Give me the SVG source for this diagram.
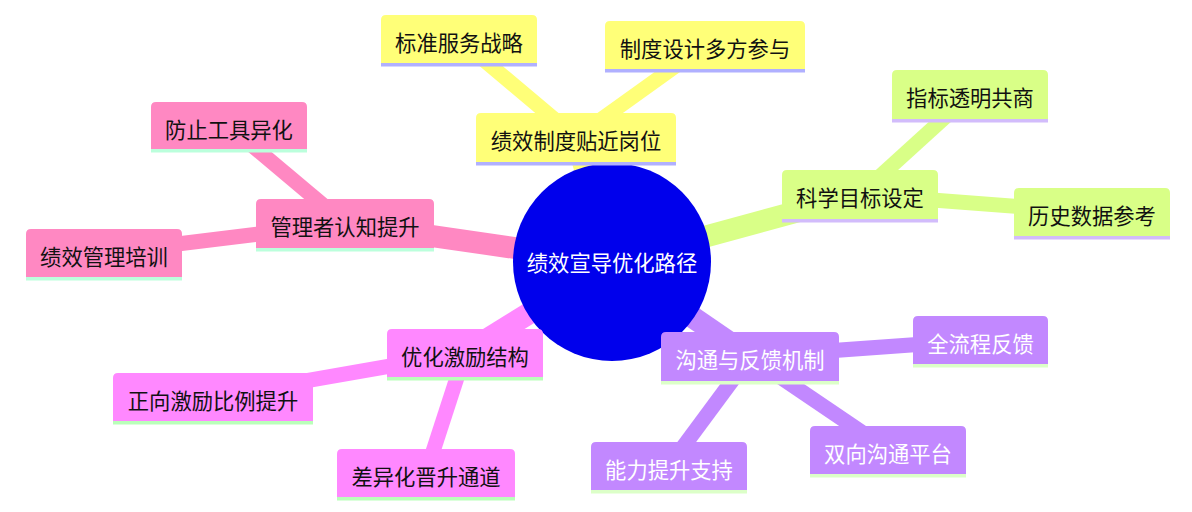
<svg xmlns="http://www.w3.org/2000/svg" width="1192" height="512" viewBox="0 0 1192 512">
<style>
text{font-family:"Noto Sans CJK SC","Noto Sans",sans-serif;font-size:21.3px;text-anchor:middle}
.dark{fill:#111}
.light{fill:#fff}
.e0{stroke-width:22;fill:none;stroke-linecap:butt}
.e1{stroke-width:15;fill:none;stroke-linecap:butt}
.s1{fill:#ffff78}.s1e{stroke:#ffff78}.s1b{fill:#b0b0ff}
.s2{fill:#d9ff87}.s2e{stroke:#d9ff87}.s2b{fill:#d2bcfb}
.s3{fill:#c288ff}.s3e{stroke:#c288ff}.s3b{fill:#dcffc8}
.s4{fill:#ff88ff}.s4e{stroke:#ff88ff}.s4b{fill:#b9ffb9}
.s5{fill:#ff88c2}.s5e{stroke:#ff88c2}.s5b{fill:#bbffdc}
</style>
<g id="connectors">
<line class="e0 s1e" x1="612" y1="262" x2="576" y2="137.5"/>
<line class="e1 s1e" x1="576" y1="137.5" x2="459" y2="39"/>
<line class="e1 s1e" x1="576" y1="137.5" x2="705" y2="45"/>
<line class="e0 s2e" x1="612" y1="262" x2="860" y2="194.5"/>
<line class="e1 s2e" x1="860" y1="194.5" x2="970" y2="94.5"/>
<line class="e1 s2e" x1="860" y1="194.5" x2="1092" y2="212"/>
<line class="e0 s3e" x1="612" y1="262" x2="750" y2="356.5"/>
<line class="e1 s3e" x1="750" y1="356.5" x2="980.5" y2="340"/>
<line class="e1 s3e" x1="750" y1="356.5" x2="888" y2="450"/>
<line class="e1 s3e" x1="750" y1="356.5" x2="669" y2="466"/>
<line class="e0 s4e" x1="612" y1="262" x2="465" y2="353"/>
<line class="e1 s4e" x1="465" y1="353" x2="213" y2="397"/>
<line class="e1 s4e" x1="465" y1="353" x2="426" y2="473"/>
<line class="e0 s5e" x1="612" y1="262" x2="345" y2="223.5"/>
<line class="e1 s5e" x1="345" y1="223.5" x2="229" y2="126"/>
<line class="e1 s5e" x1="345" y1="223.5" x2="104" y2="253"/>
</g>
<g id="root">
<circle cx="612" cy="262" r="99" fill="#0000ec"/>
<text class="light" x="612" y="271">绩效宣导优化路径</text>
</g>
<g id="n1">
<path class="s1" d="M476,162V118Q476,113 481,113H671Q676,113 676,118V162Z"/>
<rect class="s1b" x="476" y="162" width="200" height="3.5"/>
<text class="dark" x="576" y="148.5">绩效制度贴近岗位</text>
</g>
<g id="n2">
<path class="s1" d="M381,63V20Q381,15 386,15H532Q537,15 537,20V63Z"/>
<rect class="s1b" x="381" y="63" width="156" height="3.5"/>
<text class="dark" x="459" y="50.5">标准服务战略</text>
</g>
<g id="n3">
<path class="s1" d="M605,69V26Q605,21 610,21H800Q805,21 805,26V69Z"/>
<rect class="s1b" x="605" y="69" width="200" height="3.5"/>
<text class="dark" x="705" y="56.5">制度设计多方参与</text>
</g>
<g id="n4">
<path class="s2" d="M782,219V175Q782,170 787,170H933Q938,170 938,175V219Z"/>
<rect class="s2b" x="782" y="219" width="156" height="3.5"/>
<text class="dark" x="860" y="205.5">科学目标设定</text>
</g>
<g id="n5">
<path class="s2" d="M892,119V75Q892,70 897,70H1043Q1048,70 1048,75V119Z"/>
<rect class="s2b" x="892" y="119" width="156" height="3.5"/>
<text class="dark" x="970" y="105.5">指标透明共商</text>
</g>
<g id="n6">
<path class="s2" d="M1014,236V193Q1014,188 1019,188H1165Q1170,188 1170,193V236Z"/>
<rect class="s2b" x="1014" y="236" width="156" height="3.5"/>
<text class="dark" x="1092" y="223.5">历史数据参考</text>
</g>
<g id="n7">
<path class="s3" d="M661,381V337Q661,332 666,332H834Q839,332 839,337V381Z"/>
<rect class="s3b" x="661" y="381" width="178" height="3.5"/>
<text class="light" x="750" y="367.5">沟通与反馈机制</text>
</g>
<g id="n8">
<path class="s3" d="M913,364V321Q913,316 918,316H1043Q1048,316 1048,321V364Z"/>
<rect class="s3b" x="913" y="364" width="135" height="3.5"/>
<text class="light" x="980.5" y="351.5">全流程反馈</text>
</g>
<g id="n9">
<path class="s3" d="M810,474V431Q810,426 815,426H961Q966,426 966,431V474Z"/>
<rect class="s3b" x="810" y="474" width="156" height="3.5"/>
<text class="light" x="888" y="461.5">双向沟通平台</text>
</g>
<g id="n10">
<path class="s3" d="M591,490V447Q591,442 596,442H742Q747,442 747,447V490Z"/>
<rect class="s3b" x="591" y="490" width="156" height="3.5"/>
<text class="light" x="669" y="477.5">能力提升支持</text>
</g>
<g id="n11">
<path class="s4" d="M387,377V334Q387,329 392,329H538Q543,329 543,334V377Z"/>
<rect class="s4b" x="387" y="377" width="156" height="3.5"/>
<text class="dark" x="465" y="364.5">优化激励结构</text>
</g>
<g id="n12">
<path class="s4" d="M113,421V378Q113,373 118,373H308Q313,373 313,378V421Z"/>
<rect class="s4b" x="113" y="421" width="200" height="3.5"/>
<text class="dark" x="213" y="408.5">正向激励比例提升</text>
</g>
<g id="n13">
<path class="s4" d="M337,497V454Q337,449 342,449H510Q515,449 515,454V497Z"/>
<rect class="s4b" x="337" y="497" width="178" height="3.5"/>
<text class="dark" x="426" y="484.5">差异化晋升通道</text>
</g>
<g id="n14">
<path class="s5" d="M256,248V204Q256,199 261,199H429Q434,199 434,204V248Z"/>
<rect class="s5b" x="256" y="248" width="178" height="3.5"/>
<text class="dark" x="345" y="234.5">管理者认知提升</text>
</g>
<g id="n15">
<path class="s5" d="M151,149V107Q151,102 156,102H302Q307,102 307,107V149Z"/>
<rect class="s5b" x="151" y="149" width="156" height="3.5"/>
<text class="dark" x="229" y="137.5">防止工具异化</text>
</g>
<g id="n16">
<path class="s5" d="M26,277V234Q26,229 31,229H177Q182,229 182,234V277Z"/>
<rect class="s5b" x="26" y="277" width="156" height="3.5"/>
<text class="dark" x="104" y="264.5">绩效管理培训</text>
</g>
</svg>
